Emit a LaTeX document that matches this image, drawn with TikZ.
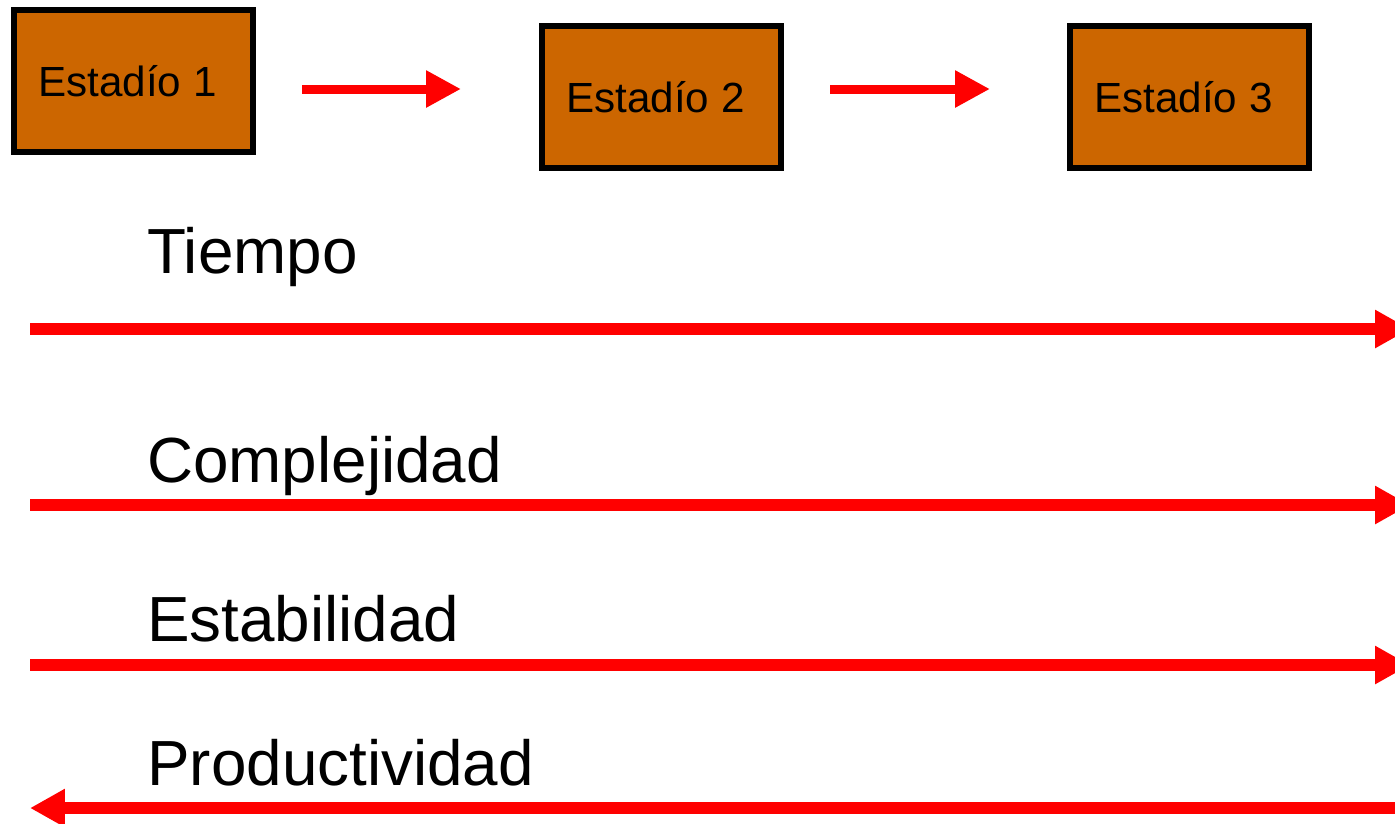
\documentclass[tikz,border=0pt]{standalone}
\usepackage{fontspec}
\setmainfont{Liberation Sans}
\usetikzlibrary{arrows.meta}
\definecolor{boxbrown}{HTML}{CC6600}
\definecolor{arrowred}{HTML}{FF0000}
\begin{document}
\begin{tikzpicture}[x=0.02cm,y=-0.02cm,
    estadio/.style={draw=black,fill=boxbrown,line width=0.12cm,minimum width=4.78cm,minimum height=2.84cm,inner sep=0pt,font=\fontsize{24}{28}\selectfont,execute at end node={\hspace*{0.24cm}}},
    eje/.style={draw=none,anchor=base west,inner sep=0pt,font=\fontsize{36.3}{42}\selectfont},
    paso/.style={arrowred,line width=0.18cm,-{Triangle[length=0.7cm,width=0.7cm]}},
    flecha/.style={arrowred,line width=0.24cm,-{Triangle[length=0.7cm,width=0.72cm]}}]
    \useasboundingbox (0,0) rectangle (1395,823);
    \node[estadio](e1)at(133.5,81){Estadío 1};
    \node[estadio](e2)at(661.5,97){Estadío 2};
    \node[estadio](e3)at(1189.5,97){Estadío 3};

    \coordinate (p1a) at (302,89); \coordinate (p1b) at (461,89);
    \coordinate (p2a) at (830,89); \coordinate (p2b) at (990,89);
    \draw[paso] (p1a) to (p1b);
    \draw[paso] (p2a) to (p2b);

    \node[eje](tiempo)at(147,273){Tiempo};
    \node[eje](compl)at(147,482){Complejidad};
    \node[eje](estab)at(147,641){Estabilidad};
    \node[eje](produc)at(147,785){Productividad};

    \coordinate (ta) at (30,329); \coordinate (tb) at (1410,329);
    \coordinate (ca) at (30,505); \coordinate (cb) at (1410,505);
    \coordinate (ea) at (30,665); \coordinate (eb) at (1410,665);
    \coordinate (pa) at (1400,808); \coordinate (pb) at (30,808);
    \draw[flecha] (ta) to (tb);
    \draw[flecha] (ca) to (cb);
    \draw[flecha] (ea) to (eb);
    \draw[flecha] (pa) to (pb);
  \end{tikzpicture}
\end{document}
